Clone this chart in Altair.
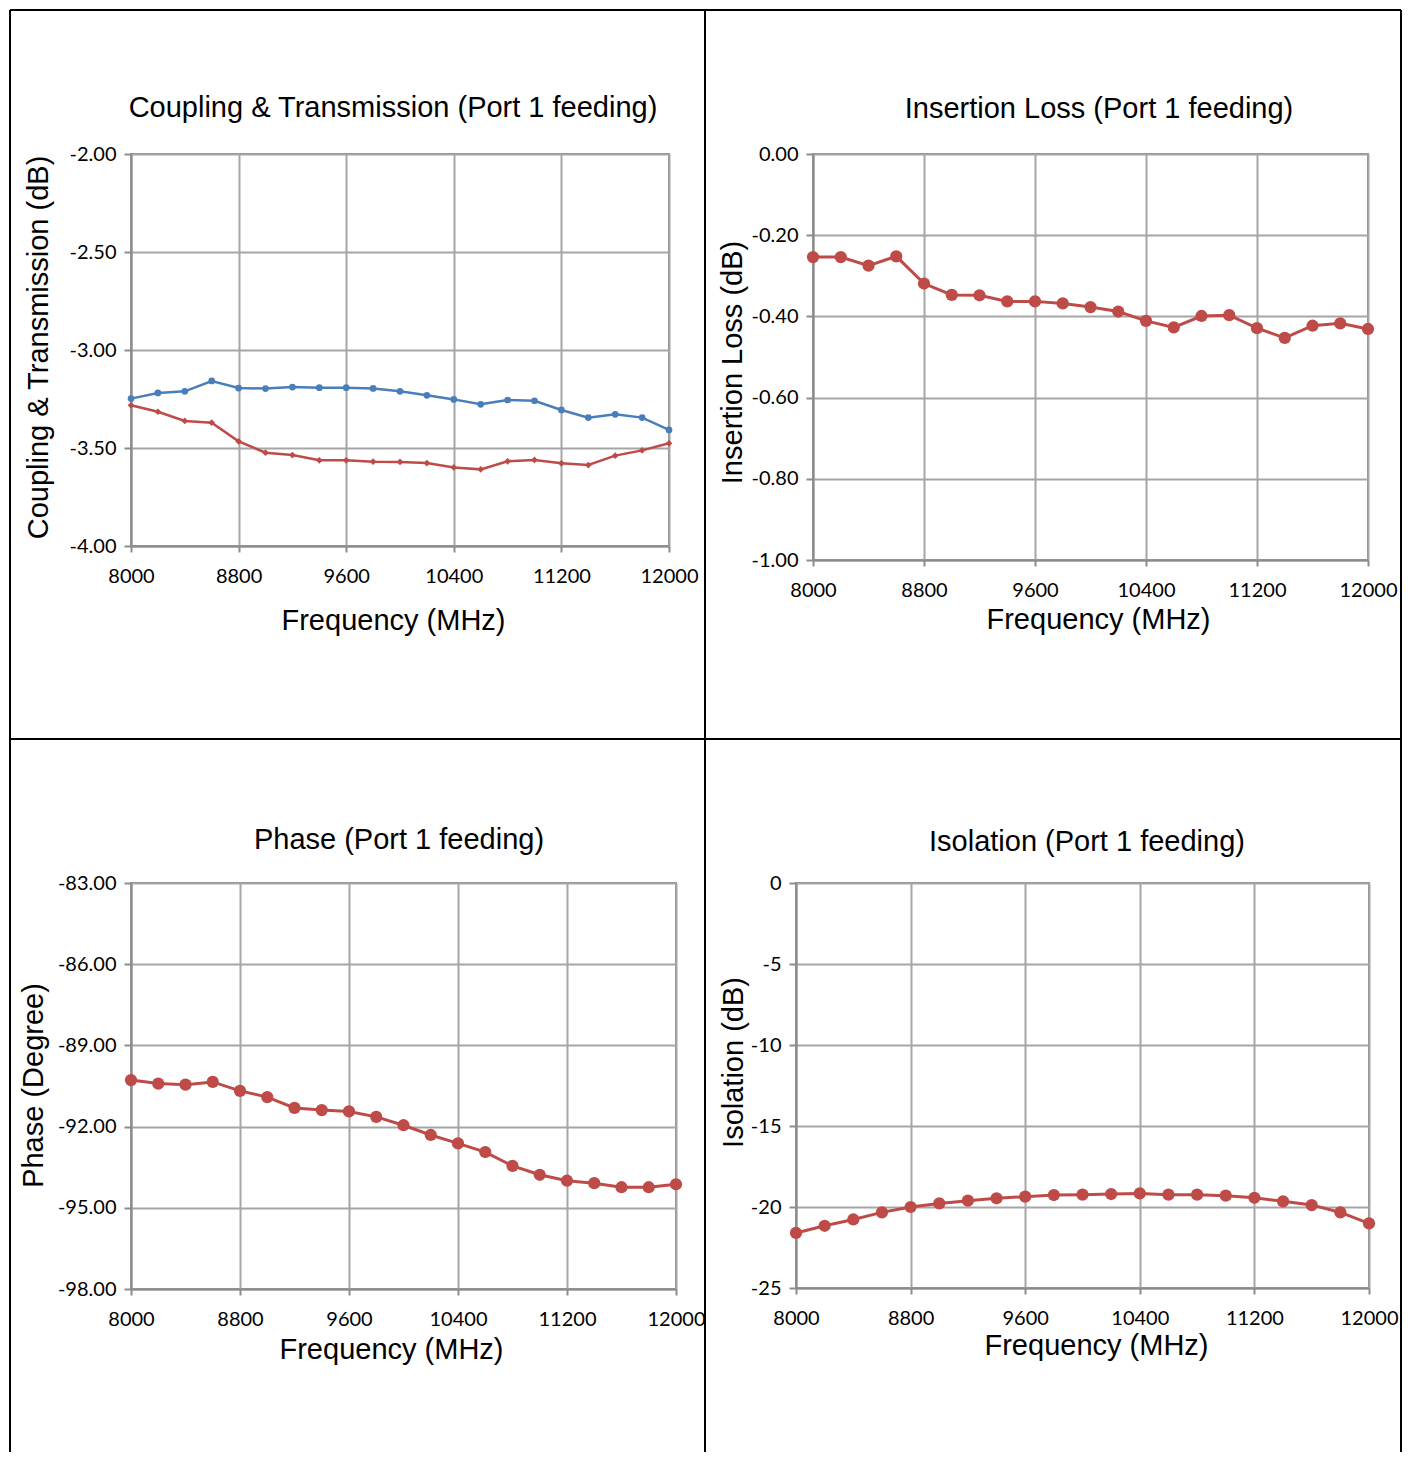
import altair as alt
import pandas as pd

# ---------------- data ----------------
freq_mhz = [8000, 8200, 8400, 8600, 8800, 9000, 9200, 9400, 9600, 9800, 10000,
            10200, 10400, 10600, 10800, 11000, 11200, 11400, 11600, 11800, 12000]
coupling_db = [-3.248, -3.219, -3.211, -3.158, -3.194, -3.197, -3.189, -3.192, -3.192, -3.196, -3.211,
               -3.231, -3.252, -3.277, -3.255, -3.259, -3.306, -3.345, -3.328, -3.345, -3.408]
transmission_db = [-3.282, -3.315, -3.362, -3.371, -3.466, -3.524, -3.536, -3.563, -3.563, -3.570, -3.571,
                   -3.577, -3.599, -3.609, -3.568, -3.561, -3.578, -3.587, -3.539, -3.512, -3.476]
insertion_loss_db = [-0.254, -0.254, -0.275, -0.252, -0.319, -0.347, -0.348, -0.363, -0.363, -0.368, -0.377,
                     -0.388, -0.411, -0.427, -0.399, -0.397, -0.429, -0.453, -0.423, -0.417, -0.431]
phase_deg = [-90.28, -90.41, -90.45, -90.35, -90.68, -90.91, -91.31, -91.39, -91.44, -91.64, -91.95,
             -92.31, -92.62, -92.94, -93.45, -93.78, -94.00, -94.09, -94.24, -94.24, -94.13]
isolation_db = [-21.60, -21.16, -20.77, -20.33, -20.00, -19.78, -19.61, -19.46, -19.36, -19.26, -19.24,
                -19.20, -19.16, -19.24, -19.24, -19.30, -19.43, -19.65, -19.88, -20.33, -21.01]

x_ticks = [8000, 8800, 9600, 10400, 11200, 12000]
y_ticks_coupling = [-4.0, -3.5, -3.0, -2.5, -2.0]
y_ticks_insertion = [-1.0, -0.8, -0.6, -0.4, -0.2, 0.0]
y_ticks_phase = [-98, -95, -92, -89, -86, -83]
y_ticks_isolation = [-25, -20, -15, -10, -5, 0]

# ---------------- styling ----------------
BLUE = "#4A7EBB"
RED = "#BE4B48"
TXT_FONT = "Liberation Sans"
NUM_FONT = "Lato"
TITLE_SIZE = 29
one_row = pd.DataFrame({"k": [0]})

MINUS_FIX = "replace(datum.label, '\u2212', '-')"


def border_layers(pl, pt, cell, draw_bottom):
    l, t, r, b = cell
    segs = [(l, l, t, b), (r, r, t, b), (l, r, t, t)]
    if draw_bottom:
        segs.append((l, r, b, b))
    out = []
    for x1, x2, y1, y2 in segs:
        out.append(
            alt.Chart(one_row)
            .mark_rule(color="black", strokeWidth=2)
            .encode(x=alt.value(x1 - pl), x2=alt.value(x2 - pl),
                    y=alt.value(y1 - pt), y2=alt.value(y2 - pt))
        )
    return out


def panel(series, p, pt_size, line_w):
    pl, pt, w, h = p["plot"]
    xenc = alt.X(
        "freq:Q",
        scale=alt.Scale(domain=[8000, 12000], nice=False, zero=False),
        axis=alt.Axis(values=x_ticks, format="d", title="Frequency (MHz)",
                      titleX=p["xtitle"][0] - pl, titleY=p["xtitle"][1] - (pt + h),
                      titleBaseline="middle", titleAlign="center",
                      labelFlush=False, labelOverlap=False,
                      tickSize=6, labelPadding=14),
    )
    yenc = alt.Y(
        "value:Q",
        scale=alt.Scale(domain=p["ydomain"], nice=False, zero=False),
        axis=alt.Axis(values=p["yticks"], format=p["yformat"], labelExpr=MINUS_FIX,
                      title=p["ytitle"],
                      titleX=p["ytitle_pos"][0] - pl, titleY=p["ytitle_pos"][1] - pt,
                      titleBaseline="middle", titleAlign="center", titleAngle=270,
                      labelFlush=False, labelOverlap=False,
                      tickSize=7, labelPadding=8),
    )
    layers = border_layers(pl, pt, p["cell"], p["draw_bottom"])
    layers.append(
        alt.Chart(one_row)
        .mark_text(text=p["title"], font=TXT_FONT, fontSize=TITLE_SIZE, align="center",
                   baseline="middle", color="black")
        .encode(x=alt.value(p["title_pos"][0] - pl), y=alt.value(p["title_pos"][1] - pt))
    )
    for values, color, shape in series:
        df = pd.DataFrame({"freq": freq_mhz, "value": values})
        layers.append(alt.Chart(df).mark_line(strokeWidth=line_w, color=color).encode(x=xenc, y=yenc))
        layers.append(
            alt.Chart(df)
            .mark_point(filled=True, opacity=1, size=pt_size, shape=shape, color=color)
            .encode(x=xenc, y=yenc)
        )
    return alt.layer(*layers).properties(width=w, height=h)


# page-coordinate layout (table rules are placed relative to each plot area;
# the first column's plots share one left edge and each row's plots share one top edge)
COLX = [10, 705, 1401]
ROWY = [10, 739, 1452]
COL1_LEFT = 131
ROW1_TOP = 154
ROW2_TOP = 883

panels = [
    dict(plot=(COL1_LEFT, ROW1_TOP, 538, 392), cell=(COLX[0], ROWY[0], COLX[1], ROWY[1]), draw_bottom=True,
         title="Coupling & Transmission (Port 1 feeding)", title_pos=(393, 108),
         ytitle="Coupling & Transmission (dB)", ytitle_pos=(38, 347), xtitle=(393, 620),
         ydomain=[-4, -2], yticks=y_ticks_coupling, yformat=".2f"),
    dict(plot=(813, ROW1_TOP, 555, 406), cell=(COLX[1], ROWY[0], COLX[2], ROWY[1]), draw_bottom=True,
         title="Insertion Loss (Port 1 feeding)", title_pos=(1099, 109),
         ytitle="Insertion Loss (dB)", ytitle_pos=(732, 362), xtitle=(1098, 619),
         ydomain=[-1, 0], yticks=y_ticks_insertion, yformat=".2f"),
    dict(plot=(COL1_LEFT, ROW2_TOP, 545, 406), cell=(COLX[0], ROWY[1], COLX[1], ROWY[2]), draw_bottom=False,
         title="Phase (Port 1 feeding)", title_pos=(399, 840),
         ytitle="Phase (Degree)", ytitle_pos=(33, 1085), xtitle=(391, 1349),
         ydomain=[-98, -83], yticks=y_ticks_phase, yformat=".2f"),
    dict(plot=(796, ROW2_TOP, 573, 405), cell=(COLX[1], ROWY[1], COLX[2], ROWY[2]), draw_bottom=False,
         title="Isolation (Port 1 feeding)", title_pos=(1087, 842),
         ytitle="Isolation (dB)", ytitle_pos=(733, 1062), xtitle=(1096, 1345),
         ydomain=[-25, 0], yticks=y_ticks_isolation, yformat="d"),
]

p1 = panel([(coupling_db, BLUE, "circle"), (transmission_db, RED, "diamond")], panels[0], 45, 2.5)
p2 = panel([(insertion_loss_db, RED, "circle")], panels[1], 150, 3)
p3 = panel([(phase_deg, RED, "circle")], panels[2], 150, 3)
p4 = panel([(isolation_db, RED, "circle")], panels[3], 150, 3)

chart = (
    alt.vconcat(alt.hconcat(p1, p2, spacing=-4), alt.hconcat(p3, p4, spacing=-4), spacing=-4)
    .properties(padding=0, background="white")
    .configure_view(stroke="#8c8c8c", strokeWidth=2)
    .configure_axis(
        grid=True, gridColor="#a6a6a6", gridWidth=2,
        domainColor="#8c8c8c", domainWidth=2,
        tickColor="#8c8c8c", tickWidth=2,
        labelFont=NUM_FONT, labelFontSize=20, labelColor="black",
        titleFont=TXT_FONT, titleFontSize=TITLE_SIZE, titleFontWeight="normal", titleColor="black",
    )
)

chart.save("out.html", embed_options={"renderer": "svg", "actions": False})
